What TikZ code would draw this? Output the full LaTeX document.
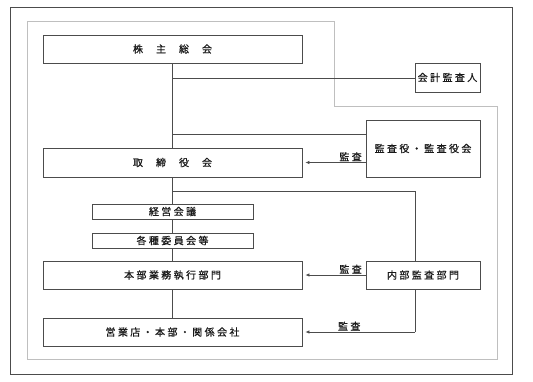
\documentclass[tikz,border=0pt]{standalone}
\usepackage{fontspec}
\newfontfamily\jp[LetterSpace=24,FakeBold=0.6]{Noto Sans CJK JP}
\usetikzlibrary{arrows.meta}
\definecolor{linegray}{gray}{0.3}
\definecolor{framegray}{gray}{0.75}
\begin{document}
\begin{tikzpicture}[x=1pt,y=-1pt,font=\jp\fontsize{10}{12}\selectfont,
  box/.style={draw=linegray,fill=white,line width=0.8pt,inner sep=0pt,align=center,text=black!90},
  link/.style={draw=linegray,line width=0.7pt},
  arr/.style={link,-{Latex[length=4pt,width=3.5pt]}},
  lbl/.style={above,inner sep=1pt,text=black!90}]
\useasboundingbox (0,0) rectangle (533,381);
% frames
\draw[linegray,line width=0.9pt] (10,7) rectangle (512,374);
\draw[framegray,line width=0.9pt] (27,21) -- (334,21) -- (334,106) -- (497,106) -- (497,359) -- (27,359) -- cycle;
% boxes
\node[box,minimum width=259,minimum height=28] (soukai) at (172.5,49) {株\hspace{13pt}主\hspace{13pt}総\hspace{13pt}会};
\node[box,minimum width=65,minimum height=29] (kaikei) at (447.5,77.5) {会計監査人};
\node[box,minimum width=114,minimum height=57] (kansayaku) at (423,148.5) {監査役・監査役会};
\node[box,minimum width=259,minimum height=29] (torishimari) at (172.5,162.5) {取\hspace{13pt}締\hspace{13pt}役\hspace{13pt}会};
\node[box,minimum width=161,minimum height=15] (keiei) at (172.5,211.5) {経営会議};
\node[box,minimum width=161,minimum height=15] (iinkai) at (172.5,240.5) {各種委員会等};
\node[box,minimum width=259,minimum height=28] (honbu) at (172.5,275) {本部業務執行部門};
\node[box,minimum width=114,minimum height=28] (naibu) at (423,275) {内部監査部門};
\node[box,minimum width=259,minimum height=28] (eigyo) at (172.5,332) {営業店・本部・関係会社};
\coordinate (j1) at (172.5,78);
\coordinate (j2) at (172.5,134);
\coordinate (j3) at (172.5,191);
\coordinate (j4) at ([xshift=-8pt]naibu.south |- eigyo);
% trunk
\draw[link] (soukai) -- (torishimari);
\draw[link] (torishimari) -- (keiei);
\draw[link] (keiei) -- (iinkai);
\draw[link] (iinkai) -- (honbu);
\draw[link] (honbu) -- (eigyo);
% branches
\draw[link] (j1) -- (j1 -| kaikei.west);
\draw[link] (j2) -- (j2 -| kansayaku.west);
\draw[link] (j3) -| ([xshift=-8pt]naibu.north);
\draw[link] ([xshift=-8pt]naibu.south) -- (j4);
% audit arrows
\draw[arr] (kansayaku.west |- torishimari) -- ([xshift=3pt]torishimari.east) node[lbl,pos=0.25] {監査};
\draw[arr] (naibu.west) -- ([xshift=3pt]honbu.east) node[lbl,pos=0.25] {監査};
\draw[arr] (j4) -- ([xshift=3pt]eigyo.east) node[lbl,pos=0.6] {監査};
\end{tikzpicture}
\end{document}
